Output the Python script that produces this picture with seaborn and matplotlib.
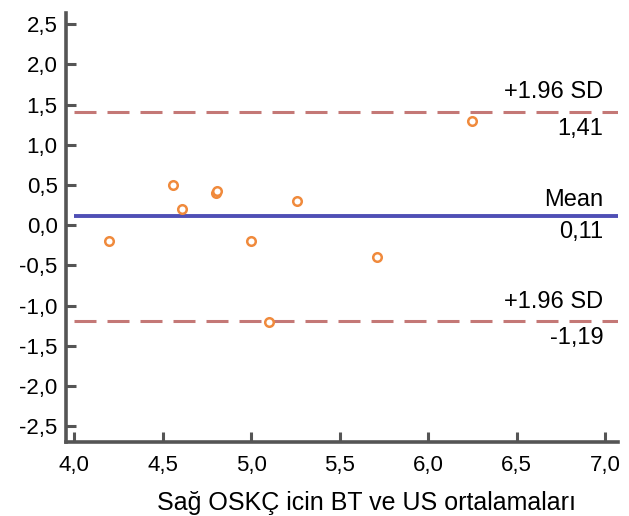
import matplotlib
matplotlib.use("Agg")
import matplotlib.pyplot as plt
import seaborn as sns
import pandas as pd

# Bland-Altman data
mean_vals = [4.2, 4.56, 4.61, 4.8, 4.81, 5.0, 5.1, 5.26, 5.71, 6.25]
diff_vals = [-0.2, 0.5, 0.2, 0.4, 0.42, -0.2, -1.2, 0.3, -0.4, 1.3]
bias = 0.11
upper_loa = 1.41
lower_loa = -1.19
x_ticks = [4.0, 4.5, 5.0, 5.5, 6.0, 6.5, 7.0]
y_ticks = [-2.5, -2.0, -1.5, -1.0, -0.5, 0.0, 0.5, 1.0, 1.5, 2.0, 2.5]
x_label = "Sağ OSKÇ icin BT ve US ortalamaları"

df = pd.DataFrame({"ort": mean_vals, "fark": diff_vals})

sns.set_style("white")
plt.rcParams["font.family"] = ["Liberation Sans", "DejaVu Sans"]
plt.rcParams["text.color"] = "black"
plt.rcParams["xtick.color"] = "#555555"
plt.rcParams["ytick.color"] = "#555555"

fig = plt.figure(figsize=(6.29, 5.16), dpi=100)
ax = fig.add_axes([0.105, 0.143, 0.877, 0.832])

xmax = 7.07
ax.set_xlim(3.955, xmax)
ax.set_ylim(-2.7, 2.64)

dash = (7.2, 3.6)
ax.hlines(upper_loa, 4.0, xmax, color="#c47876", lw=2.2, linestyles=[(0, dash)])
ax.hlines(lower_loa, 4.0, xmax, color="#c47876", lw=2.2, linestyles=[(0, dash)])
ax.hlines(bias, 4.0, xmax, color="#4f4fb5", lw=2.8)

sns.scatterplot(data=df, x="ort", y="fark", ax=ax, marker="o", s=38,
                facecolor="white", edgecolor="#f08a3c", linewidth=1.8, zorder=5)

fs = 16
afs = 17
tx = 6.99
ax.text(tx, upper_loa + 0.24, "+1.96 SD", ha="right", va="center", fontsize=afs)
ax.text(tx, upper_loa - 0.21, "1,41", ha="right", va="center", fontsize=afs)
ax.text(tx, bias + 0.2, "Mean", ha="right", va="center", fontsize=afs)
ax.text(tx, bias - 0.2, "0,11", ha="right", va="center", fontsize=afs)
ax.text(tx, lower_loa + 0.24, "+1.96 SD", ha="right", va="center", fontsize=afs)
ax.text(tx, lower_loa - 0.21, "-1,19", ha="right", va="center", fontsize=afs)

ax.set_xticks(x_ticks)
ax.set_xticklabels([f"{v:.1f}".replace(".", ",") for v in x_ticks])
ax.set_yticks(y_ticks)
ax.set_yticklabels([f"{v:.1f}".replace(".", ",") for v in y_ticks])
ax.tick_params(left=True, bottom=True, direction="in", length=7, width=2.2,
               labelsize=fs, labelcolor="black", pad=6)
ax.tick_params(axis="x", pad=9)

for side in ["top", "right"]:
    ax.spines[side].set_visible(False)
for side in ["left", "bottom"]:
    ax.spines[side].set_color("#555555")
    ax.spines[side].set_linewidth(2.6)

ax.set_xlabel(x_label, fontsize=18, color="black", va="baseline")
ax.xaxis.set_label_coords(0.544, -0.158)
ax.set_ylabel("")

fig.savefig("out.png", dpi=100)
